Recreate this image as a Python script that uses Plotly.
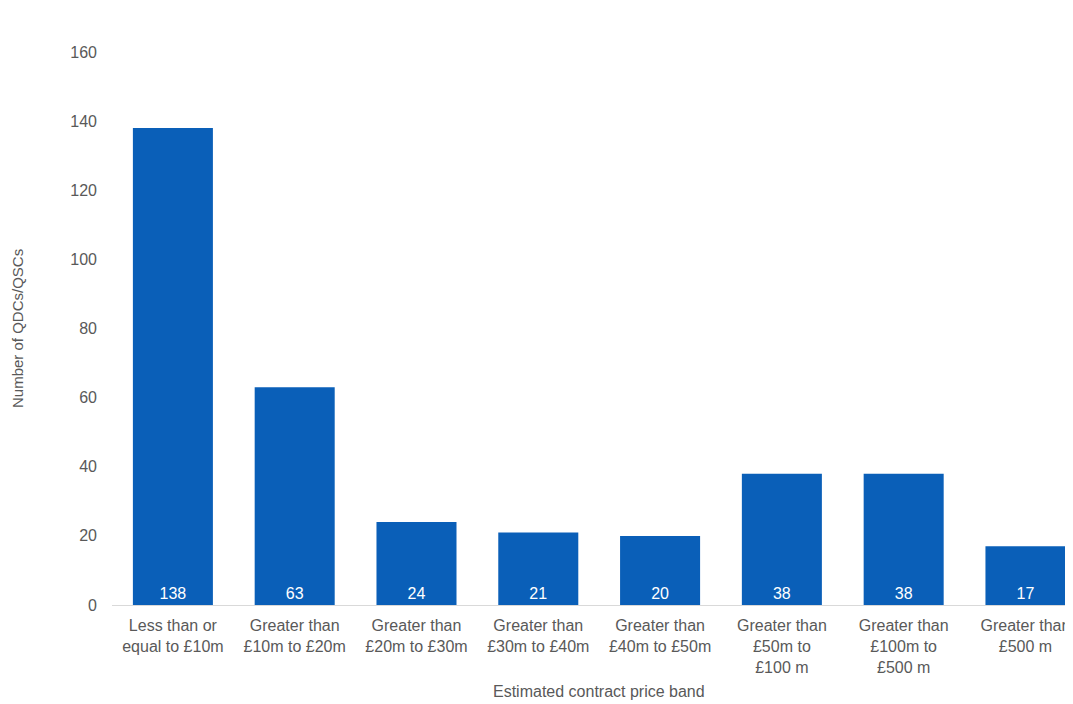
import plotly.graph_objects as go

categories = [
    "Less than or<br>equal to £10m",
    "Greater than<br>£10m to £20m",
    "Greater than<br>£20m to £30m",
    "Greater than<br>£30m to £40m",
    "Greater than<br>£40m to £50m",
    "Greater than<br>£50m to<br>£100 m",
    "Greater than<br>£100m to<br>£500 m",
    "Greater than<br>£500 m",
]
counts = [138, 63, 24, 21, 20, 38, 38, 17]
y_ticks = [0, 20, 40, 60, 80, 100, 120, 140, 160]

BAR = "#0a5fb8"
GREY = "#595959"
FONT = "Liberation Sans, Arial, sans-serif"

fig = go.Figure(
    go.Bar(
        x=list(range(len(categories))),
        y=counts,
        marker=dict(color=BAR, line=dict(width=0)),
        text=[str(v) for v in counts],
        textposition="inside",
        insidetextanchor="start",
        textangle=0,
        textfont=dict(color="white", size=16, family=FONT),
        width=0.657,
        cliponaxis=True,
    )
)

fig.update_layout(
    width=1073,
    height=704,
    margin=dict(l=104, r=0, t=44, b=107),
    paper_bgcolor="white",
    plot_bgcolor="white",
    showlegend=False,
    font=dict(family=FONT, color=GREY, size=16),
    xaxis=dict(
        tickmode="array",
        tickvals=list(range(len(categories))),
        ticktext=categories,
        range=[-0.5, 7.456],
        showgrid=False,
        zeroline=False,
        showline=True,
        linecolor="#d9d9d9",
        linewidth=1,
        ticks="",
        tickfont=dict(size=16, color=GREY),
        ticklabelstandoff=6,
    ),
    yaxis=dict(
        range=[0, 160],
        tickvals=y_ticks,
        showgrid=False,
        zeroline=False,
        showline=False,
        ticks="",
        tickfont=dict(size=16, color=GREY),
        ticklabelstandoff=14,
    ),
    annotations=[
        dict(
            text="Number of QDCs/QSCs",
            xref="paper", yref="paper",
            x=-0.0975, y=0.5,
            xanchor="center", yanchor="middle",
            textangle=-90,
            showarrow=False,
            font=dict(size=15, color=GREY),
        ),
        dict(
            text="Estimated contract price band",
            xref="x", yref="paper",
            x=3.5, y=-0.157,
            xanchor="center", yanchor="middle",
            showarrow=False,
            font=dict(size=16, color=GREY),
        ),
    ],
)

fig.write_html("out.html")
